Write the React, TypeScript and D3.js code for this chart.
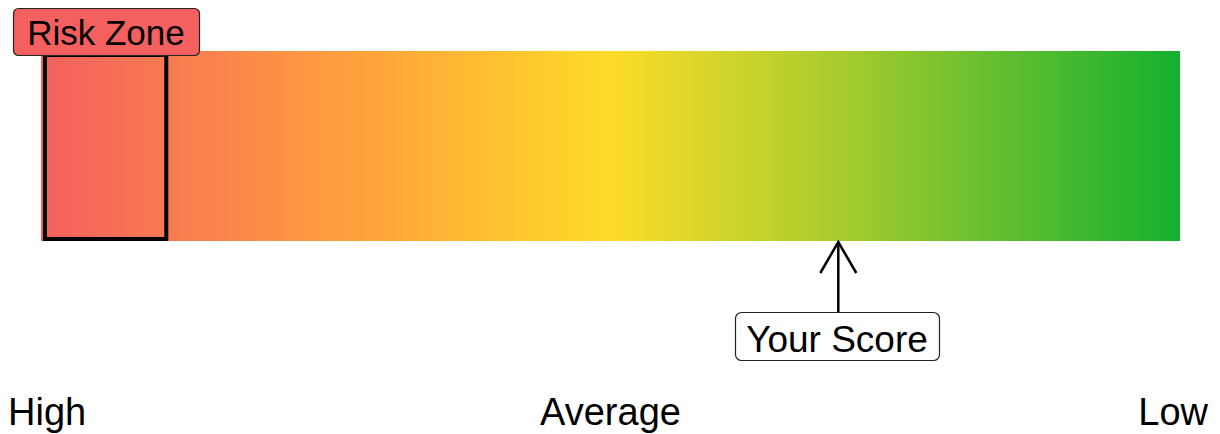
import React, { useEffect, useRef } from 'react';
import * as d3 from 'd3';

// scale labels along the bar
const scaleLabels = ['High', 'Average', 'Low'];
const labelPositions = [0, 50, 100];
// gradient stops (offset in % of the bar, colour)
const stopOffsets = [0, 30, 50, 70, 100];
const stopColors = ['#f5605e', '#ffa63a', '#fddc28', '#a8cc2e', '#15b02f'];
// risk zone range and the score
const riskZone = [0, 11];
const yourScore = 70;

function App() {
  const ref = useRef<SVGSVGElement>(null);

  useEffect(() => {
    const svg = d3.select(ref.current);
    svg.selectAll('*').remove();

    const x = d3.scaleLinear().domain([0, 100]).range([41, 1180]);
    const barTop = 51;
    const barBottom = 241;
    const font = 'Liberation Sans, Arial, sans-serif';

    const grad = svg.append('defs').append('linearGradient')
      .attr('id', 'riskGrad')
      .attr('x1', '0%').attr('x2', '100%').attr('y1', '0%').attr('y2', '0%');
    stopOffsets.forEach((o, i) => {
      grad.append('stop').attr('offset', o + '%').attr('stop-color', stopColors[i]);
    });

    svg.append('rect')
      .attr('x', x(0))
      .attr('y', barTop)
      .attr('width', x(100) - x(0))
      .attr('height', barBottom - barTop)
      .attr('fill', 'url(#riskGrad)');

    // risk zone outline
    svg.append('rect')
      .attr('x', x(riskZone[0]) + 4)
      .attr('y', barTop + 4)
      .attr('width', x(riskZone[1]) - x(riskZone[0]) - 4)
      .attr('height', barBottom - barTop - 6)
      .attr('fill', 'none')
      .attr('stroke', '#000')
      .attr('stroke-width', 4);

    // risk zone label
    const rz = svg.append('g');
    rz.append('rect')
      .attr('x', 13.5).attr('y', 8.5)
      .attr('width', 186).attr('height', 47)
      .attr('rx', 5)
      .attr('fill', '#f46060')
      .attr('stroke', '#222')
      .attr('stroke-width', 1.2);
    rz.append('text')
      .attr('x', 106).attr('y', 45)
      .attr('text-anchor', 'middle')
      .attr('font-family', font)
      .attr('font-size', 35)
      .text('Risk Zone');

    // score arrow
    const sx = x(yourScore);
    svg.append('line')
      .attr('x1', sx).attr('x2', sx)
      .attr('y1', barBottom + 1).attr('y2', 312)
      .attr('stroke', '#000').attr('stroke-width', 2.5);
    svg.append('path')
      .attr('d', `M${sx - 18},${barBottom + 32}L${sx},${barBottom + 1}L${sx + 18},${barBottom + 32}`)
      .attr('fill', 'none')
      .attr('stroke', '#000').attr('stroke-width', 2.5);

    svg.append('rect')
      .attr('x', 735.5).attr('y', 312.5)
      .attr('width', 204).attr('height', 48)
      .attr('rx', 6)
      .attr('fill', '#fff')
      .attr('stroke', '#222')
      .attr('stroke-width', 1.2);
    svg.append('text')
      .attr('x', 837).attr('y', 352)
      .attr('text-anchor', 'middle')
      .attr('font-family', font)
      .attr('font-size', 37)
      .text('Your Score');

    // bottom labels
    const anchors = ['start', 'middle', 'end'];
    const offsets = [-33, 0, 28];
    svg.selectAll('text.scale')
      .data(scaleLabels)
      .enter().append('text')
      .attr('class', 'scale')
      .attr('x', (d, i) => x(labelPositions[i]) + offsets[i])
      .attr('y', 425)
      .attr('text-anchor', (d, i) => anchors[i])
      .attr('font-family', font)
      .attr('font-size', 38)
      .text(d => d);
  }, []);

  return (
    <svg ref={ref} width={1220} height={434}
      style={{ position: 'absolute', left: 0, top: 0, background: '#fff' }} />
  );
}

export default App;
